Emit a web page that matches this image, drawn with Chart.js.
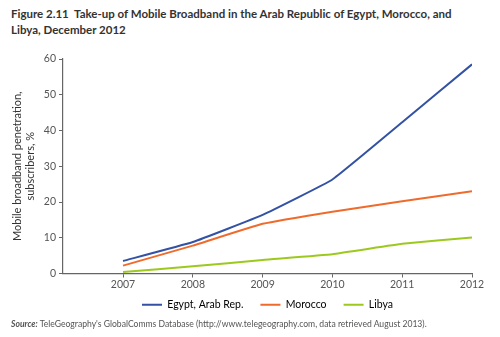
<!DOCTYPE html>
<html>
<head>
<meta charset="utf-8">
<script src="https://cdn.jsdelivr.net/npm/chart.js@4/dist/chart.umd.min.js"></script>
<style>
  html, body { margin: 0; padding: 0; background: #fff; }
  #wrap { position: relative; width: 500px; height: 337px; overflow: hidden; }
  #title { position: absolute; left: 11px; top: 6px; width: 485px; font-family: Lato, "Open Sans", sans-serif; font-weight: bold; font-size: 11.5px; line-height: 16px; color: #333; }
  #source { position: absolute; left: 11px; top: 319px; font-family: Lato, "Open Sans", sans-serif; font-size: 8.6px; color: #555; white-space: nowrap; }
  #source b { font-style: italic; }
  canvas { position: absolute; left: 0; top: 0; }
</style>
</head>
<body>
<div id="wrap">
  <div id="title">Figure 2.11&nbsp;&nbsp;Take-up of Mobile Broadband in the Arab Republic of Egypt, Morocco, and<br>Libya, December 2012</div>
  <canvas id="c" width="500" height="337"></canvas>
  <div id="source"><b>Source:</b> TeleGeography's GlobalComms Database (http://www.telegeography.com, data retrieved August 2013).</div>
</div>
<script>
const years = [2007, 2008, 2009, 2010, 2011, 2012];
const egypt = [3.5, 8.8, 16.4, 26.3, 42.3, 58.5];
const morocco = [2.2, 7.8, 13.9, 17.3, 20.2, 23.0];
const libya = [0.4, 2.0, 3.8, 5.4, 8.3, 10.1];
const yTicks = [0, 10, 20, 30, 40, 50, 60];
const seriesNames = ['Egypt, Arab Rep.', 'Morocco', 'Libya'];
const colors = ['#3452a4', '#ef6b2c', '#9dc91f'];

const toPts = arr => years.map((y, i) => ({ x: y, y: arr[i] }));

// nudge the legend up a little after layout (keeps wide item spacing)
const legendShift = {
  id: 'legendShift',
  afterLayout(chart) {
    const lg = chart.legend;
    if (lg) { lg.top -= 11; lg.bottom -= 11; }
  }
};

new Chart(document.getElementById('c'), {
  type: 'line',
  data: {
    datasets: [egypt, morocco, libya].map((arr, i) => ({
      label: seriesNames[i],
      data: toPts(arr),
      borderColor: colors[i],
      backgroundColor: colors[i],
      borderWidth: 2,
      pointRadius: 0,
      tension: 0.1,
      fill: false
    }))
  },
  plugins: [legendShift],
  options: {
    responsive: false,
    animation: false,
    layout: { padding: { top: 59, right: 28, bottom: 6, left: 11 } },
    plugins: {
      legend: {
        position: 'bottom',
        fullSize: false,
        labels: {
          boxWidth: 20,
          boxHeight: 2,
          padding: 17,
          color: '#333',
          font: { family: 'Lato, "Open Sans", sans-serif', size: 10.5 },
          generateLabels: chart => chart.data.datasets.map((d, i) => ({
            text: d.label, fillStyle: d.borderColor, strokeStyle: d.borderColor, lineWidth: 0, datasetIndex: i, hidden: false
          }))
        }
      },
      tooltip: { enabled: false }
    },
    scales: {
      x: {
        type: 'linear',
        min: 2006.14,
        max: 2012,
        afterBuildTicks: s => { s.ticks = years.map(v => ({ value: v })); },
        afterFit: s => { s.height = 20; },
        ticks: {
          color: '#555',
          font: { family: 'Lato, "Open Sans", sans-serif', size: 10.5 },
          maxRotation: 0,
          padding: 1,
          callback: v => String(v)
        },
        grid: { display: true, drawOnChartArea: false, drawTicks: true, tickLength: 4, color: '#666' },
        border: { display: true, color: '#666', width: 1.2 }
      },
      y: {
        min: 0,
        max: 60,
        afterBuildTicks: s => { s.ticks = yTicks.map(v => ({ value: v })); },
        afterFit: s => { s.width = 52; },
        title: {
          display: true,
          text: ['Mobile broadband penetration,', 'subscribers, %'],
          color: '#333',
          font: { family: 'Lato, "Open Sans", sans-serif', size: 11 },
          padding: { top: 0, bottom: 2 }
        },
        ticks: {
          color: '#555',
          font: { family: 'Lato, "Open Sans", sans-serif', size: 10.5 },
          padding: 3
        },
        grid: { display: true, drawOnChartArea: false, drawTicks: true, tickLength: 4, color: '#666' },
        border: { display: true, color: '#666', width: 1.2 }
      }
    }
  }
});
</script>
</body>
</html>
